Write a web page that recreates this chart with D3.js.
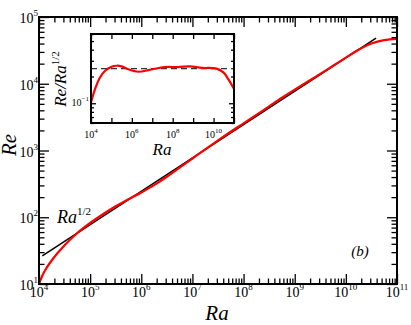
<!DOCTYPE html>
<html lang="en">
<head>
<meta charset="UTF-8">
<title>Re vs Ra</title>
<script src="https://d3js.org/d3.v7.min.js"></script>
<style>
  body { margin: 0; background: #fff; }
  svg { display: block; }
  svg text { font-family: "Liberation Serif", "Times New Roman", "DejaVu Serif", serif; }
</style>
</head>
<body>
<svg id="chart" width="411" height="325"></svg>
<script>
// main panel: Re against Ra (red curve)
const raMain = [1e4, 1.26e4, 1.78e4, 3.16e4, 5.62e4,
  1e5, 1.78e5, 3.16e5, 5.62e5,
  1e6, 1.78e6, 3.16e6, 5.62e6,
  1e7, 1.78e7, 3.16e7, 5.62e7,
  1e8, 1.78e8, 3.16e8, 5.62e8,
  1e9, 1.78e9, 3.16e9, 5.62e9,
  1e10, 1.78e10, 3.16e10, 5.62e10,
  1e11];
const reMain = [10, 15.1, 22.7, 38, 58,
  82, 111, 146, 186,
  235, 303, 404, 552,
  759, 1042, 1417, 1912,
  2550, 3414, 4588, 6166,
  8159, 10711, 14059, 18597,
  24600, 32271, 40000, 45000,
  47000];

// Ra^{1/2} reference line, end points
const raFit = [1.16e4, 3.9e10];
const reFit = [26.4, 48400];

// inset: Re/Ra^{1/2}
const raInset = [1e4, 1.57e4, 2.75e4, 4.9e4, 1.02e5, 1.82e5, 3.16e5, 6.76e5,
  2.09e6, 6.46e6, 1.62e7, 4.17e7, 1.86e8, 7.08e8, 2.63e9, 1.41e10,
  3.02e10, 5.25e10, 1e11];
const ratioInset = [0.102, 0.144, 0.195, 0.232, 0.257, 0.264, 0.26, 0.241,
  0.226, 0.236, 0.246, 0.255, 0.255, 0.26, 0.25, 0.245,
  0.222, 0.187, 0.145];
const ratioRef = 0.245;

// tick labels (exponents of 10)
const xLabelExp = [4, 5, 6, 7, 8, 9, 10, 11];
const yLabelExp = [1, 2, 3, 4, 5];
const insetXLabelExp = [4, 6, 8, 10];
const insetYLabelExp = [-1];

const FONT = '"Liberation Serif", "Times New Roman", "DejaVu Serif", serif';
const svg = d3.select("#chart").attr("font-family", FONT);

const isPow = v => Math.abs(Math.log10(v) - Math.round(Math.log10(v))) < 1e-6;
const supText = e => (e < 0 ? "\u2212" + (-e) : "" + e);

// draws mirrored log ticks on all four sides of a box
function drawTicks(g, x, y, box, major, minor, xMajorOnly) {
  const xt = x.ticks();
  const yt = y.ticks();
  const xMaj = xt.filter(isPow), xMin = xt.filter(v => !isPow(v));
  const yMaj = yt.filter(isPow), yMin = yt.filter(v => !isPow(v));
  const sets = [
    [d3.axisBottom, x, `translate(0,${box.y1})`, xMaj, major],
    [d3.axisTop, x, `translate(0,${box.y0})`, xMaj, major],
    [d3.axisLeft, y, `translate(${box.x0},0)`, yMaj, major],
    [d3.axisRight, y, `translate(${box.x1},0)`, yMaj, major]
  ];
  if (!xMajorOnly) {
    sets.push([d3.axisBottom, x, `translate(0,${box.y1})`, xMin, minor]);
    sets.push([d3.axisTop, x, `translate(0,${box.y0})`, xMin, minor]);
  }
  sets.push([d3.axisLeft, y, `translate(${box.x0},0)`, yMin, minor]);
  sets.push([d3.axisRight, y, `translate(${box.x1},0)`, yMin, minor]);
  sets.forEach(([ax, sc, tr, vals, len]) => {
    const a = g.append("g").attr("transform", tr)
      .call(ax(sc).tickValues(vals).tickSize(-len).tickFormat(""));
    a.select(".domain").remove();
    a.selectAll("line").attr("stroke", "#000").attr("stroke-width", 1.3);
  });
}

function txt(g) {
  return g.append("text").attr("font-family", FONT);
}

// ---------- main panel ----------
const box = { x0: 39, x1: 397, y0: 17, y1: 284 };
const x = d3.scaleLog().domain([1e4, 1e11]).range([box.x0, box.x1]);
const y = d3.scaleLog().domain([10, 1e5]).range([box.y1, box.y0]);

const main = svg.append("g");
main.append("path")
  .datum(raFit.map((r, i) => [r, reFit[i]]))
  .attr("d", d3.line().x(d => x(d[0])).y(d => y(d[1])))
  .attr("fill", "none").attr("stroke", "#000").attr("stroke-width", 1.5);

main.append("path")
  .datum(raMain.map((r, i) => [r, reMain[i]]))
  .attr("d", d3.line().x(d => x(d[0])).y(d => y(d[1])).curve(d3.curveCatmullRom))
  .attr("fill", "none").attr("stroke", "#ff0000").attr("stroke-width", 2.2);

drawTicks(main, x, y, box, 10, 5.5, false);
main.append("rect")
  .attr("x", box.x0).attr("y", box.y0)
  .attr("width", box.x1 - box.x0).attr("height", box.y1 - box.y0)
  .attr("fill", "none").attr("stroke", "#000").attr("stroke-width", 2);

xLabelExp.forEach(e => {
  const t = txt(main).attr("x", x(Math.pow(10, e))).attr("y", 297)
    .attr("text-anchor", "middle").attr("font-size", 14);
  t.append("tspan").text("10");
  t.append("tspan").attr("dy", -7).attr("font-size", 9).text(supText(e));
});
yLabelExp.forEach(e => {
  const t = txt(main).attr("x", 38).attr("y", y(Math.pow(10, e)) + 6)
    .attr("text-anchor", "end").attr("font-size", 14);
  t.append("tspan").text("10");
  t.append("tspan").attr("dy", -7).attr("font-size", 9).text(supText(e));
});

txt(main).attr("x", 217).attr("y", 320).attr("text-anchor", "middle")
  .attr("font-size", 21).attr("font-style", "italic").text("Ra");
txt(main).attr("transform", "translate(16,145) rotate(-90)")
  .attr("text-anchor", "middle").attr("font-size", 21).attr("font-style", "italic").text("Re");
txt(main).attr("x", 360).attr("y", 256).attr("text-anchor", "middle")
  .attr("font-size", 15).attr("font-style", "italic").text("(b)");

const fitLab = txt(main).attr("x", 57).attr("y", 223).attr("font-size", 18);
fitLab.append("tspan").attr("font-style", "italic").text("Ra");
fitLab.append("tspan").attr("dy", -8).attr("font-size", 11).text("1/2");

// ---------- inset ----------
const ib = { x0: 91, x1: 234, y0: 34, y1: 123 };
const xi = d3.scaleLog().domain([1e4, 1e11]).range([ib.x0, ib.x1]);
const yi = d3.scaleLog().domain([0.06, 0.6]).range([ib.y1, ib.y0]);

const inset = svg.append("g");
inset.append("rect")
  .attr("x", ib.x0).attr("y", ib.y0)
  .attr("width", ib.x1 - ib.x0).attr("height", ib.y1 - ib.y0)
  .attr("fill", "#fff");

svg.append("clipPath").attr("id", "insetClip").append("rect")
  .attr("x", ib.x0).attr("y", ib.y0)
  .attr("width", ib.x1 - ib.x0).attr("height", ib.y1 - ib.y0);

inset.append("line")
  .attr("x1", ib.x0).attr("x2", ib.x1)
  .attr("y1", yi(ratioRef)).attr("y2", yi(ratioRef))
  .attr("stroke", "#333").attr("stroke-width", 1.2).attr("stroke-dasharray", "6,4");

inset.append("path")
  .datum(raInset.map((r, i) => [r, ratioInset[i]]))
  .attr("clip-path", "url(#insetClip)")
  .attr("d", d3.line().x(d => xi(d[0])).y(d => yi(d[1])).curve(d3.curveCatmullRom))
  .attr("fill", "none").attr("stroke", "#ff0000").attr("stroke-width", 2.2);

drawTicks(inset, xi, yi, ib, 5, 3, true);
inset.append("rect")
  .attr("x", ib.x0).attr("y", ib.y0)
  .attr("width", ib.x1 - ib.x0).attr("height", ib.y1 - ib.y0)
  .attr("fill", "none").attr("stroke", "#000").attr("stroke-width", 2);

insetXLabelExp.forEach(e => {
  const t = txt(inset).attr("x", xi(Math.pow(10, e))).attr("y", 138)
    .attr("text-anchor", "middle").attr("font-size", 10);
  t.append("tspan").text("10");
  t.append("tspan").attr("dy", -5).attr("font-size", 7).text(supText(e));
});
insetYLabelExp.forEach(e => {
  const t = txt(inset).attr("x", 89).attr("y", yi(Math.pow(10, e)) + 3)
    .attr("text-anchor", "end").attr("font-size", 10);
  t.append("tspan").text("10");
  t.append("tspan").attr("dy", -5).attr("font-size", 7).text(supText(e));
});

txt(inset).attr("x", 162).attr("y", 155).attr("text-anchor", "middle")
  .attr("font-size", 17).attr("font-style", "italic").text("Ra");
const iyLab = txt(inset).attr("transform", "translate(66,79) rotate(-90)")
  .attr("text-anchor", "middle").attr("font-size", 17);
iyLab.append("tspan").attr("font-style", "italic").text("Re/Ra");
iyLab.append("tspan").attr("dy", -7).attr("font-size", 11).text("1/2");
</script>
</body>
</html>
